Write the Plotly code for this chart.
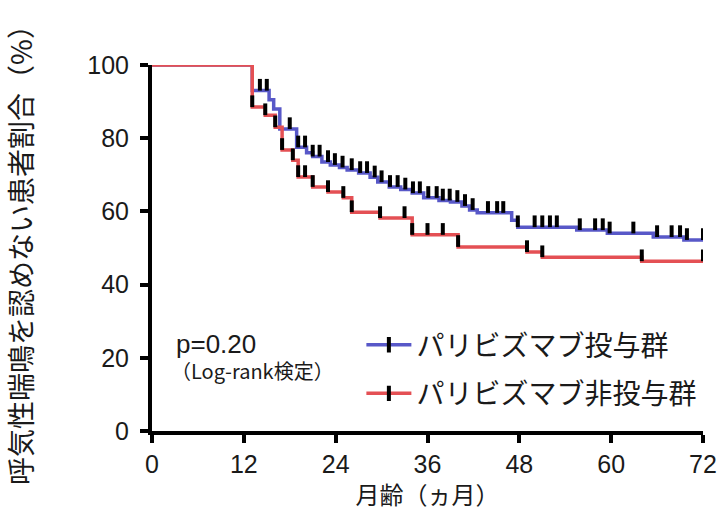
import bisect
import plotly.graph_objects as go

# ---- data ----
blue_name = "パリビズマブ投与群"
blue_t = [0, 13.1, 15.3, 15.9, 16.7, 18.9, 20.2, 21.0, 22.2, 23.3, 24.5, 25.5, 27.0, 28.5, 29.5,
          31.0, 32.5, 34.0, 35.5, 37.5, 39.0, 40.5, 41.5, 42.5, 47.0, 47.8, 55.5, 59.5, 65.5, 69.5]
blue_s = [100, 93, 90.5, 88, 82.5, 77.5, 76, 75, 73.5, 72.7, 72, 71.3, 70.5, 69.3, 68,
          66.7, 66, 65, 63.7, 63, 62.6, 61.5, 60.4, 59.6, 57.6, 55.7, 54.9, 54.0, 53.0, 52.2]
blue_cens = [14.1, 15.0, 18.0, 19.1, 20.0, 21.0, 21.9, 23.0, 23.9, 24.9, 26.1, 27.2, 28.1, 29.1,
             30.0, 31.1, 32.1, 33.1, 34.1, 35.0, 36.1, 37.2, 38.0, 38.9, 39.9, 40.9, 41.9, 43.9,
             45.1, 45.9, 47.8, 50.0, 51.0, 52.0, 52.9, 55.9, 57.9, 58.9, 59.8, 62.9, 66.0, 67.9,
             69.0, 69.9, 72.0]

red_name = "パリビズマブ非投与群"
red_t = [0, 13.1, 14.8, 16.1, 17.0, 18.4, 19.1, 21.0, 23.0, 25.0, 26.1, 29.8, 34.0, 40.0, 49.0, 51.0, 64.0]
red_s = [100, 88.5, 86.3, 83, 76.8, 74, 69.4, 66.7, 65.3, 63.7, 59.8, 58.2, 53.6, 50.3, 48.9, 47.5, 46.4]
red_cens = [13.1, 14.8, 16.1, 17.0, 18.4, 19.1, 20.0, 21.0, 23.0, 25.0, 26.1, 29.8, 33.0, 34.0,
            36.0, 38.0, 40.0, 49.0, 51.0, 64.0, 72.0]

x_end = 72
x_ticks = [0, 12, 24, 36, 48, 60, 72]
y_ticks = [0, 20, 40, 60, 80, 100]
tick_height = 3.2  # censor tick height in % units

BLUE = "rgb(88,88,200)"
RED = "rgb(228,80,84)"
FONT = "Liberation Sans, Arial, Noto Sans CJK JP"
JFONT = "Noto Sans CJK JP"
TXT = "#1a1a1a"


def surv_at(ts, ss, t):
    i = bisect.bisect_right(ts, t) - 1
    return ss[max(i, 0)]


fig = go.Figure()

for ts, ss, col in [(blue_t, blue_s, BLUE), (red_t, red_s, RED)]:
    fig.add_trace(go.Scatter(x=ts + [x_end], y=ss + [ss[-1]], mode="lines",
                             line=dict(color=col, width=3.5, shape="hv"),
                             showlegend=False, cliponaxis=False, hoverinfo="skip"))

# censor ticks: upward vertical bars drawn as one-sided error bars
for ts, ss, cens in [(blue_t, blue_s, blue_cens), (red_t, red_s, red_cens)]:
    fig.add_trace(go.Scatter(x=cens, y=[surv_at(ts, ss, c) for c in cens], mode="markers",
                             marker=dict(size=1, color="black", opacity=0),
                             error_y=dict(type="data", symmetric=False,
                                          array=[tick_height] * len(cens),
                                          arrayminus=[0] * len(cens),
                                          width=0, thickness=4, color="black"),
                             showlegend=False, cliponaxis=False))

# legend entries
for name, col, lg in [(blue_name, BLUE, "legend"), (red_name, RED, "legend2")]:
    fig.add_trace(go.Scatter(x=[None], y=[None], mode="lines+markers", name=name,
                             line=dict(color=col, width=3.5),
                             marker=dict(symbol="line-ns", size=11,
                                         line=dict(color="black", width=4)),
                             legend=lg))

fig.add_annotation(x=0.040, y=0.238, xref="paper", yref="paper", text="p=0.20",
                   showarrow=False, xanchor="left", yanchor="middle",
                   font=dict(family=FONT, size=26, color=TXT))
fig.add_annotation(x=0.030, y=0.165, xref="paper", yref="paper", text="（Log-rank検定）",
                   showarrow=False, xanchor="left", yanchor="middle",
                   font=dict(family=JFONT, size=20, color=TXT))

leg_common = dict(xanchor="left", yanchor="middle", itemwidth=45,
                  font=dict(family=JFONT, size=28, color=TXT), bgcolor="rgba(0,0,0,0)")
fig.update_layout(
    width=718, height=511,
    margin=dict(l=152, r=15, t=65, b=80),
    paper_bgcolor="white", plot_bgcolor="white",
    font=dict(family=FONT, size=24, color=TXT),
    legend=dict(x=0.38, y=0.235, **leg_common),
    legend2=dict(x=0.38, y=0.102, **leg_common),
    xaxis=dict(range=[0, 72], tickvals=x_ticks, showgrid=False, zeroline=False,
               showline=True, linecolor="black", linewidth=4, automargin=False,
               ticks="outside", ticklen=8, tickwidth=4, tickcolor="black",
               tickfont=dict(family=FONT, size=25, color=TXT),
               title=dict(text="月齢（ヵ月）", font=dict(family=JFONT, size=24, color=TXT),
                          standoff=8)),
    yaxis=dict(range=[0, 100], tickvals=y_ticks, showgrid=False, zeroline=False,
               showline=True, linecolor="black", linewidth=4, automargin=False,
               ticks="outside", ticklen=8, tickwidth=4, tickcolor="black",
               ticklabelstandoff=6,
               tickfont=dict(family=FONT, size=25, color=TXT),
               title=dict(text="呼気性喘鳴を認めない患者割合（%）",
                          font=dict(family=JFONT, size=28, color=TXT), standoff=48)),
)

fig.write_html("out.html", config={"displayModeBar": False},
               post_script="document.body.style.margin='0px';")
